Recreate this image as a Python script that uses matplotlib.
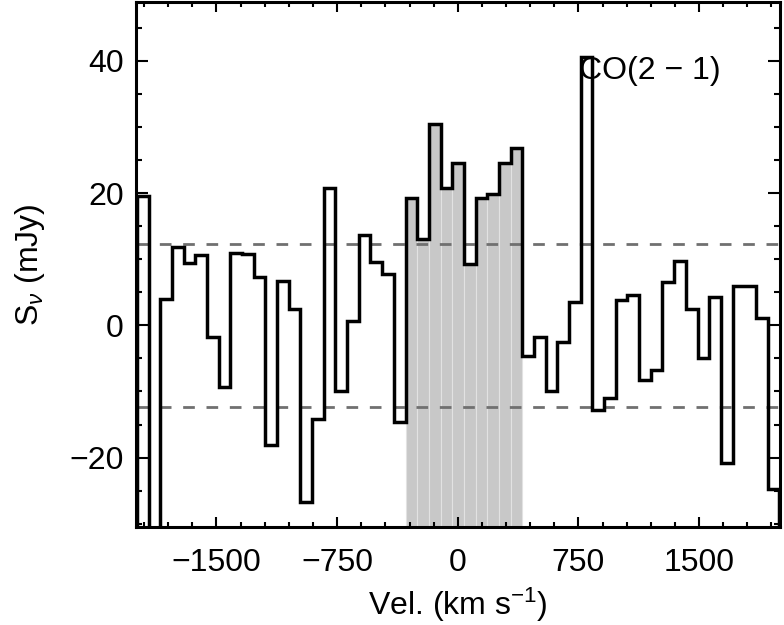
import numpy as np
import matplotlib
matplotlib.use('Agg')
import matplotlib.pyplot as plt
from matplotlib.ticker import MultipleLocator, FixedLocator

plt.rcParams['font.family'] = ['Liberation Sans', 'DejaVu Sans']
plt.rcParams['mathtext.fontset'] = 'custom'
plt.rcParams['mathtext.rm'] = 'Liberation Sans'
plt.rcParams['mathtext.it'] = 'Liberation Sans:italic'

# channel setup (km/s)
chan_start = -1994.6
chan_width = 72.6

# flux density per channel (mJy)
flux = [19.5, -32.0, 4.0, 11.9, 9.4, 10.6, -1.8, -9.3, 11.0, 10.8,
        7.3, -18.1, 6.7, 2.4, -26.7, -14.2, 20.7, -9.9, 0.6, 13.6,
        9.6, 7.8, -14.6, 19.3, 13.0, 30.4, 20.7, 24.5, 9.3, 19.3,
        19.9, 24.6, 26.8, -4.7, -1.7, -10.0, -2.5, 3.6, 40.6, -12.8,
        -11.0, 3.9, 4.6, -8.3, -6.7, 6.5, 9.7, 2.5, -5.0, 4.3,
        -20.8, 5.9, 6.0, 1.1, -24.8]

# channels of the line (shaded) and the 3-sigma noise level
line_chans = list(range(23, 33))
noise_3sig = 12.3

line_label = 'CO(2 \u2212 1)'
xticks = [-1500, -750, 0, 750, 1500]

edges = chan_start + chan_width * np.arange(len(flux) + 1)

fig = plt.figure(figsize=(7.84, 6.25), dpi=100)
ax = fig.add_axes([0.1735, 0.1568, 0.8208, 0.8400])

ylo, yhi = -30.5, 48.9

# shaded line channels
ax.bar(edges[line_chans], np.array(flux)[line_chans] - (ylo - 10), bottom=ylo - 10,
       width=chan_width, align='edge', color='#c8c8c8', edgecolor='#e2e2e2',
       linewidth=0.8, zorder=1)

# noise levels
for yv in (noise_3sig, -noise_3sig):
    ax.axhline(yv, color='#707070', lw=2.0, linestyle=(0, (4.2, 4.2)), zorder=2)

# spectrum
ax.stairs(flux, edges, baseline=ylo - 10, color='black', lw=2.5, zorder=3)

ax.text(756, 37.2, line_label, fontsize=23, ha='left', va='baseline', zorder=4)

ax.set_xlim(-2000, 2000)
ax.set_ylim(ylo, yhi)

ax.xaxis.set_major_locator(FixedLocator(xticks))
ax.xaxis.set_minor_locator(MultipleLocator(150))
ax.yaxis.set_major_locator(MultipleLocator(20))
ax.yaxis.set_minor_locator(MultipleLocator(5))

ax.tick_params(axis='both', which='both', direction='in', top=True, right=True,
               labelsize=23, width=1.5)
ax.tick_params(axis='x', which='major', length=7.2, pad=15)
ax.tick_params(axis='x', which='minor', length=3.6)
ax.tick_params(axis='y', which='major', length=8.6, pad=9)
ax.tick_params(axis='y', which='minor', length=4.3)

for sp in ax.spines.values():
    sp.set_linewidth(2.2)

ax.set_xlabel('Vel. (km s$^{-1}$)', fontsize=23, labelpad=6)
ax.set_ylabel(r'S$_\nu$ (mJy)', fontsize=23, labelpad=16)

plt.savefig('out.png', dpi=100)
